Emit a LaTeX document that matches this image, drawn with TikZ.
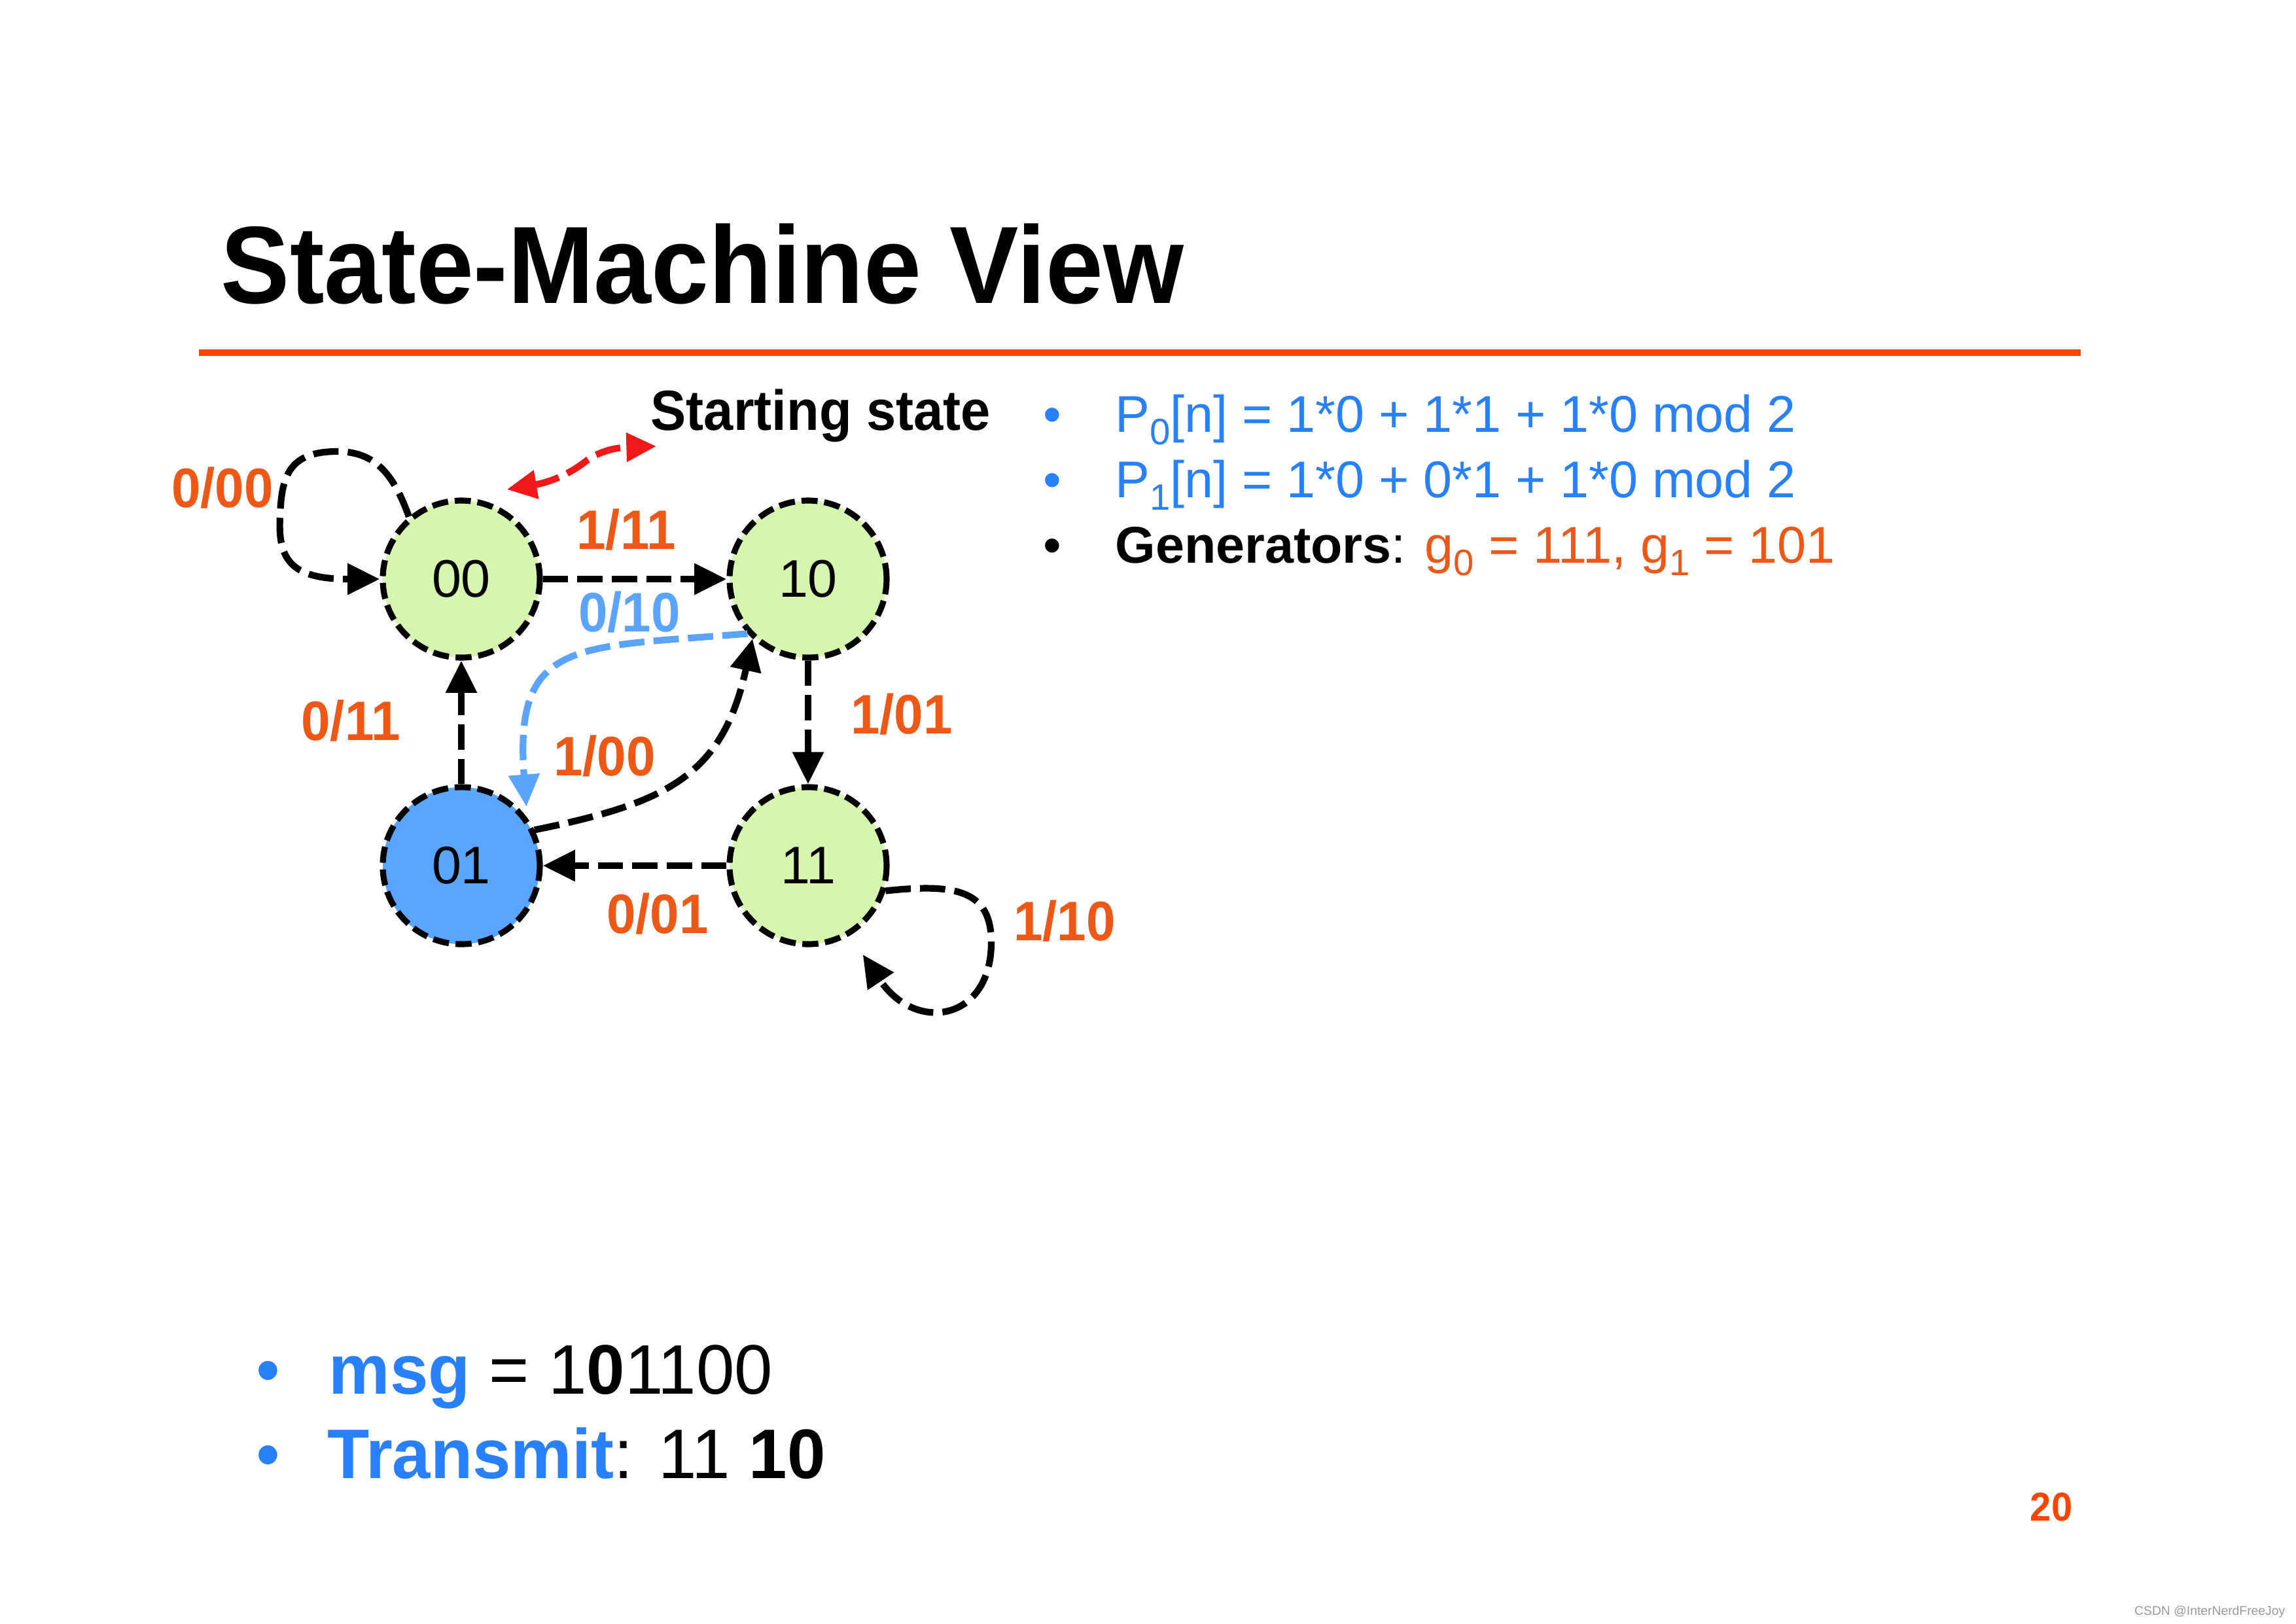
\documentclass[tikz,border=0pt]{standalone}
\usepackage{fontspec}
\setmainfont{Liberation Sans}
\newfontfamily\narrowfont[FakeStretch=0.94]{Liberation Sans}
\newfontfamily\bottomfont[FakeStretch=0.98]{Liberation Sans}
\usepackage{graphicx}
\usetikzlibrary{arrows.meta}

\definecolor{stateGreen}{RGB}{214,246,176}
\definecolor{stateBlue}{RGB}{88,166,255}
\definecolor{textBlue}{RGB}{40,128,250}
\definecolor{labelOrange}{RGB}{238,88,22}
\definecolor{ruleOrange}{RGB}{255,68,0}
\definecolor{edgeBlue}{RGB}{90,164,255}
\definecolor{pointerRed}{RGB}{240,24,24}

\newcommand{\dn}[1]{\raisebox{-0.25em}{\fontsize{16}{16}\selectfont #1}}

\begin{document}
\begin{tikzpicture}[
    state/.style={
        circle,
        draw=black,
        fill=stateGreen,
        line width=2.6pt,
        dash pattern=on 7pt off 2.9pt,
        minimum size=2.4cm,
        inner sep=0pt,
        font=\fontsize{23}{23}\selectfont
    },
    trans/.style={
        black,
        line width=2.9pt,
        dash pattern=on 11pt off 4pt,
        -{Triangle[length=14pt,width=13pt]}
    },
    pointer/.style={
        pointerRed,
        line width=2.9pt,
        dash pattern=on 11pt off 4pt,
        {Triangle[length=13pt,width=12pt]}-{Triangle[length=13pt,width=12pt]}
    },
    lbl/.style={
        text=labelOrange,
        inner sep=0pt,
        font=\narrowfont\bfseries\fontsize{24.2}{26}\selectfont
    },
    bodytext/.style={
        anchor=base west,
        inner sep=0pt,
        font=\fontsize{22.5}{26}\selectfont
    },
    bigtext/.style={
        anchor=base west,
        inner sep=0pt,
        font=\bottomfont\fontsize{30.5}{34}\selectfont
    }
]

\fill[white] (0,0) rectangle (35.09,-24.81);

\node[
    anchor=base west,
    inner sep=0pt,
    font=\narrowfont\bfseries\fontsize{47.8}{50}\selectfont
]
(title) at (3.37,-4.63) {State-Machine View};

\draw[ruleOrange, line width=2.7pt] (3.04,-5.39) -- (31.80,-5.39);

\node[state] (s00) at (7.05,-8.85) {00};
\node[state] (s10) at (12.35,-8.85) {10};
\node[state, fill=stateBlue] (s01) at (7.05,-13.23) {01};
\node[state] (s11) at (12.35,-13.23) {11};

\node[
    anchor=base west,
    inner sep=0pt,
    font=\narrowfont\bfseries\fontsize{24.6}{26}\selectfont
]
(start) at (9.94,-6.57) {Starting state};

\draw[trans] (s00) -- (s10);
\draw[trans] (s10) -- (s11);
\draw[trans] (s11) -- (s01);
\draw[trans] (s01) -- (s00);

\draw[trans]
(s01.26)
.. controls (10.14,-12.28) and (11.04,-11.89) ..
(s10.227);

\draw[trans, edgeBlue, shorten >=0.17cm]
(s10.222)
.. controls (8.80,-9.90) and (7.85,-9.75) ..
(s01.36);

\draw[trans]
(s00.130)
.. controls (6.00,-7.20) and (5.70,-6.90) ..
(5.15,-6.90)
.. controls (4.40,-6.90) and (4.30,-7.30) ..
(4.28,-7.90)
.. controls (4.24,-8.60) and (4.50,-8.85) ..
(s00.west);

\draw[trans, shorten >=0.35cm]
(s11.-18)
.. controls (14.60,-13.50) and (15.15,-13.60) ..
(15.15,-14.40)
.. controls (15.15,-15.60) and (14.00,-15.80) ..
(s11.-59);

\draw[pointer]
([xshift=0.13cm,yshift=0.26cm]s00.63)
.. controls (8.40,-7.37) and (8.70,-7.25) ..
(8.95,-7.05)
.. controls (9.15,-6.90) and (9.40,-6.84) ..
([xshift=0.09cm,yshift=-0.06cm]start.south west);

\node[lbl] (l000) at (3.40,-7.46) {0/00};
\node[lbl] (l111) at (9.57,-8.10) {1/11};
\node[lbl, text=edgeBlue] (l010) at (9.62,-9.36) {0/10};
\node[lbl] (l011) at (5.36,-11.02) {0/11};
\node[lbl] (l100) at (9.24,-11.56) {1/00};
\node[lbl] (l101) at (13.78,-10.92) {1/01};
\node[lbl] (l001) at (10.05,-13.97) {0/01};
\node[lbl] (l110) at (16.27,-14.08) {1/10};

\foreach \c [count=\i] in {textBlue,textBlue,black}{
    \node[bodytext, anchor=base, text=\c] (dot\i) at (16.08,{-5.60-\i}) {•};
}

\node[bodytext, text=textBlue] (p0) at (17.04,-6.60)
{P\dn{0}[n] = 1*0 + 1*1 + 1*0 mod 2};
\node[bodytext, text=textBlue] (p1) at (17.04,-7.60)
{P\dn{1}[n] = 1*0 + 0*1 + 1*0 mod 2};
\node[bodytext] (gen) at (17.04,-8.60)
{\textbf{Generators}: \textcolor{labelOrange}{g\dn{0} = 111, g\dn{1} = 101}};

\node[bigtext, anchor=base, text=textBlue] (dot4) at (4.10,-21.30) {•};
\node[bigtext, anchor=base, text=textBlue] (dot5) at (4.10,-22.59) {•};

\node[bigtext] (msg) at (5.02,-21.30)
{\textcolor{textBlue}{\bfseries msg} = 1\textbf{0}1100};
\node[bigtext] (tx) at (5.00,-22.59)
{\textcolor{textBlue}{\bfseries Transmit}: 11 \textbf{10}};

\node[
    text=ruleOrange,
    anchor=base,
    inner sep=0pt,
    font=\narrowfont\bfseries\fontsize{17.5}{18}\selectfont
]
(page) at (31.35,-23.24) {20};

\node[
    text=black!40,
    anchor=base east,
    inner sep=0pt,
    font=\fontsize{5.5}{6}\selectfont
]
(mark) at (34.93,-24.68) {CSDN @InterNerdFreeJoy};

\pgfresetboundingbox
\path[use as bounding box] (0,0) rectangle (35.09,-24.81);
\end{tikzpicture}
\end{document}
